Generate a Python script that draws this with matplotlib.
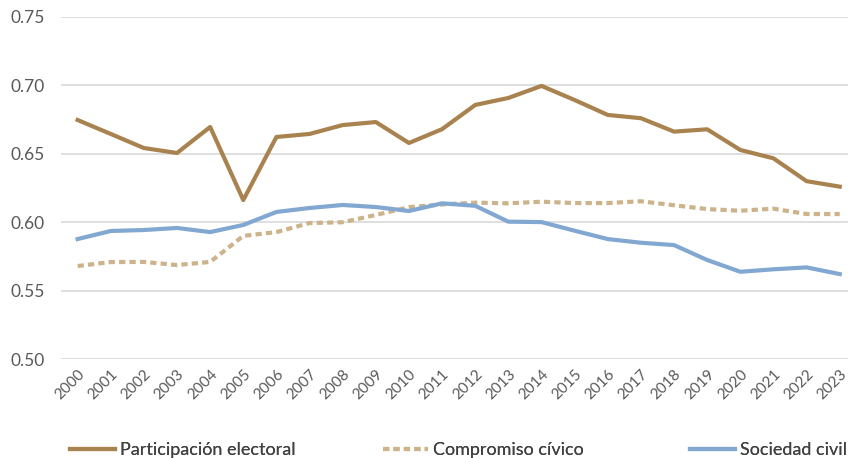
import matplotlib.pyplot as plt
import numpy as np

plt.rcParams['font.family'] = ['Lato', 'DejaVu Sans']

years = list(range(2000, 2024))
participacion = [0.6747, 0.6645, 0.6542, 0.6506, 0.6696, 0.6162, 0.6623, 0.6645,
                 0.6710, 0.6732, 0.6579, 0.6680, 0.6857, 0.6908, 0.6996, 0.6893,
                 0.6784, 0.6760, 0.6662, 0.6679, 0.6528, 0.6467, 0.6300, 0.6260]
compromiso = [0.5680, 0.5709, 0.5710, 0.5687, 0.5710, 0.5900, 0.5928, 0.5994,
              0.6000, 0.6053, 0.6110, 0.6130, 0.6143, 0.6138, 0.6150, 0.6140,
              0.6140, 0.6153, 0.6124, 0.6096, 0.6084, 0.6099, 0.6060, 0.6060]
sociedad = [0.5877, 0.5936, 0.5943, 0.5958, 0.5928, 0.5980, 0.6075, 0.6104,
            0.6126, 0.6111, 0.6082, 0.6138, 0.6120, 0.6004, 0.6001, 0.5938,
            0.5877, 0.5850, 0.5833, 0.5724, 0.5638, 0.5656, 0.5670, 0.5621]
yticks = [0.50, 0.55, 0.60, 0.65, 0.70, 0.75]

fig = plt.figure(figsize=(8.48, 4.58), dpi=100)
ax = fig.add_axes([0.072, 0.216, 0.928, 0.747])

l1, = ax.plot(years, participacion, color='#A9834F', lw=3, label='Participación electoral')
l2, = ax.plot(years, compromiso, color='#CDB38A', lw=3, ls=(0, (1.5, 1)), label='Compromiso cívico')
l3, = ax.plot(years, sociedad, color='#82A8D2', lw=3, label='Sociedad civil')

ax.set_ylim(0.50, 0.75)
ax.set_yticks(yticks)
ax.set_yticklabels([f'{v:.2f}' for v in yticks])
ax.set_xlim(1999.5, 2023.25)
ax.set_xticks(years)
ax.set_xticklabels([str(y) for y in years], rotation=45, ha='right', rotation_mode='anchor')
ax.grid(axis='y', color='#D9D9D9', lw=1.2)
ax.set_axisbelow(True)
for s in ax.spines.values():
    s.set_visible(False)
ax.tick_params(axis='both', length=0, colors='#595959')
ax.tick_params(axis='y', labelsize=12.5, pad=12)
ax.tick_params(axis='x', labelsize=11, pad=6)

# one legend per entry so they sit where the original has them
for line, xpos in [(l1, 70), (l2, 383), (l3, 690)]:
    leg = fig.legend(handles=[line], loc='center left', bbox_to_anchor=(xpos / 848, 8 / 458),
                     frameon=False, fontsize=13, handlelength=2.5, handletextpad=0.25,
                     borderpad=0, borderaxespad=0, labelcolor='#404040')
    fig.add_artist(leg)

plt.savefig('out.png', dpi=100)
